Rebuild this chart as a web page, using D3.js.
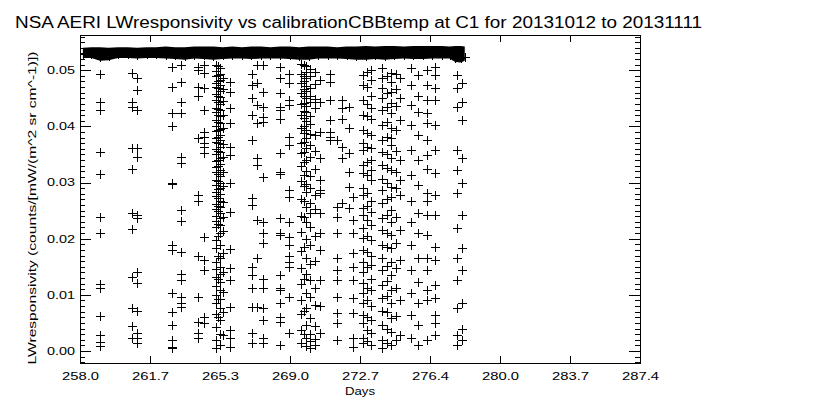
<!DOCTYPE html>
<html>
<head>
<meta charset="utf-8">
<script src="https://cdn.jsdelivr.net/npm/d3@7"></script>
<style>
body { margin: 0; background: #fff; }
svg text { font-family: "Liberation Sans", Arial, sans-serif; fill: #000; }
</style>
</head>
<body>
<svg width="840" height="400"></svg>
<script>
const width = 840;
const height = 400;
const plotLeft = 80, plotRight = 640, plotTop = 35, plotBottom = 363;

const titleText = "NSA AERI LWresponsivity vs calibrationCBBtemp at C1 for 20131012 to 20131111";
const xLabelText = "Days";
const yLabelText = "LWresponsivity (counts/[mW/(m^2 sr cm^-1)])";

const xTicks = [258.0, 261.675, 265.35, 269.025, 272.7, 276.375, 280.05, 283.725, 287.4];
const xTickLabels = ["258.0", "261.7", "265.3", "269.0", "272.7", "276.4", "280.0", "283.7", "287.4"];
const yTicks = [0, 0.01, 0.02, 0.03, 0.04, 0.05];
const yTickLabels = ["0.00", "0.01", "0.02", "0.03", "0.04", "0.05"];

// dense calibration cluster near the top (envelope of the point cloud)
const bandDays = [258.15, 258.6, 259.05, 259.5, 260.0, 260.5, 261.0, 261.5, 262.0, 262.5, 263.0, 263.5, 264.0, 264.5,
  265.0, 265.5, 266.0, 266.5, 267.0, 267.5, 268.0, 268.5, 269.0, 269.5, 270.0, 270.5, 271.0, 271.5, 272.0, 272.5,
  273.0, 273.5, 274.0, 274.5, 275.0, 275.5, 276.0, 276.5, 277.0, 277.4, 277.7, 278.0, 278.2];
const bandHi = [0.0533, 0.0534, 0.0534, 0.0533, 0.0534, 0.0534, 0.0533, 0.0534, 0.0534, 0.0535, 0.0534, 0.0534, 0.0535, 0.0535,
  0.0535, 0.0534, 0.0535, 0.0534, 0.0535, 0.0535, 0.0534, 0.0535, 0.0535, 0.0534, 0.0535, 0.0535, 0.0535, 0.0534, 0.0535, 0.0535,
  0.0536, 0.0535, 0.0536, 0.0536, 0.0535, 0.0536, 0.0536, 0.0536, 0.0536, 0.0535, 0.0536, 0.0536, 0.0535];
const bandLo = [0.0529, 0.0529, 0.0524, 0.0525, 0.0529, 0.0529, 0.0528, 0.0529, 0.0529, 0.0528, 0.0527, 0.0526, 0.0528, 0.0527,
  0.0526, 0.0527, 0.0528, 0.0528, 0.0527, 0.0528, 0.0528, 0.0528, 0.0527, 0.0526, 0.0526, 0.0528, 0.0528, 0.0528, 0.0527, 0.0526,
  0.0526, 0.0527, 0.0526, 0.0527, 0.0528, 0.0527, 0.0527, 0.0528, 0.0528, 0.0528, 0.0522, 0.0521, 0.0524];

// scattered points, grouped by the day they fall on
const colDays = [259.05, 260.73, 260.99, 262.85, 263.3, 264.17, 264.5, 265.15, 265.35, 265.5, 265.85,
  267.05, 267.3, 267.6, 268.5, 268.95, 269.6, 269.85, 270.1, 270.35, 270.6, 271.1, 271.5, 271.75, 272.1, 272.35,
  272.85, 273.3, 273.85, 274.35, 274.8, 275.4, 275.75, 276.2, 276.65, 277.8, 278.05,
  265.25, 269.75, 273.05, 274.1, 274.6];
const colResp = [
  [0.0494, 0.0443, 0.0429, 0.0354, 0.0316, 0.0238, 0.0210, 0.0120, 0.0112, 0.0062, 0.0028, 0.0016, 0.0008],
  [0.0496, 0.0443, 0.0434, 0.0361, 0.0325, 0.0245, 0.0218, 0.0131, 0.0076, 0.0044, 0.0024],
  [0.0486, 0.0464, 0.0430, 0.0361, 0.0345, 0.0242, 0.0236, 0.0140, 0.0121, 0.0071, 0.0032, 0.0023, 0.0014],
  [0.0505, 0.0470, 0.0423, 0.0400, 0.0299, 0.0297, 0.0188, 0.0179, 0.0103, 0.0069, 0.0046, 0.0019, 0.0007, 0.0005],
  [0.0509, 0.0479, 0.0443, 0.0423, 0.0345, 0.0334, 0.0251, 0.0231, 0.0176, 0.0138, 0.0126, 0.0096, 0.0085, 0.0078],
  [0.0505, 0.0500, 0.0470, 0.0455, 0.0379, 0.0277, 0.0268, 0.0170, 0.0096, 0.0051, 0.0032, 0.0024],
  [0.0509, 0.0496, 0.0468, 0.0429, 0.0390, 0.0381, 0.0370, 0.0363, 0.0352, 0.0203, 0.0162, 0.0144, 0.0060, 0.0049],
  [0.0510, 0.0499, 0.0489, 0.0478, 0.0470, 0.0457, 0.0447, 0.0433, 0.0425, 0.0412, 0.0401, 0.0391, 0.0380, 0.0372,
   0.0359, 0.0350, 0.0338, 0.0327, 0.0318, 0.0305, 0.0296, 0.0284, 0.0276, 0.0262, 0.0252, 0.0241, 0.0231, 0.0220,
   0.0197, 0.0183, 0.0158, 0.0146, 0.0131, 0.0115, 0.0100, 0.0085, 0.0066, 0.0043, 0.0020, 0.0006],
  [0.0504, 0.0494, 0.0483, 0.0474, 0.0463, 0.0452, 0.0440, 0.0429, 0.0418, 0.0406, 0.0396, 0.0385, 0.0376, 0.0364,
   0.0354, 0.0344, 0.0333, 0.0322, 0.0311, 0.0300, 0.0290, 0.0279, 0.0268, 0.0257, 0.0246, 0.0236, 0.0225, 0.0210,
   0.0188, 0.0165, 0.0150, 0.0137, 0.0122, 0.0108, 0.0092, 0.0076, 0.0055, 0.0031, 0.0011],
  [0.0487, 0.0466, 0.0445, 0.0420, 0.0397, 0.0369, 0.0346, 0.0318, 0.0293, 0.0265, 0.0239, 0.0214, 0.0174, 0.0140,
   0.0105, 0.0069, 0.0029],
  [0.0479, 0.0461, 0.0432, 0.0406, 0.0363, 0.0349, 0.0300, 0.0247, 0.0182, 0.0147, 0.0126, 0.0078, 0.0037, 0.0024, 0.0007],
  [0.0494, 0.0473, 0.0450, 0.0420, 0.0375, 0.0272, 0.0260, 0.0149, 0.0135, 0.0113, 0.0078, 0.0032, 0.0014],
  [0.0509, 0.0477, 0.0438, 0.0406, 0.0343, 0.0331, 0.0233, 0.0165, 0.0078],
  [0.0509, 0.0461, 0.0434, 0.0416, 0.0407, 0.0309, 0.0229, 0.0211, 0.0192, 0.0129, 0.0112, 0.0076, 0.0055, 0.0024, 0.0014],
  [0.0505, 0.0486, 0.0459, 0.0434, 0.0429, 0.0414, 0.0352, 0.0318, 0.0316, 0.0236, 0.0211, 0.0206, 0.0135, 0.0112,
   0.0108, 0.0085, 0.0060, 0.0051, 0.0010],
  [0.0494, 0.0477, 0.0447, 0.0438, 0.0381, 0.0366, 0.0286, 0.0274, 0.0229, 0.0203, 0.0188, 0.0170, 0.0158, 0.0149, 0.0096, 0.0032],
  [0.0511, 0.0493, 0.0478, 0.0459, 0.0440, 0.0421, 0.0398, 0.0371, 0.0352, 0.0329, 0.0302, 0.0271, 0.0241, 0.0212,
   0.0178, 0.0148, 0.0119, 0.0090, 0.0066, 0.0038, 0.0014],
  [0.0507, 0.0497, 0.0486, 0.0472, 0.0463, 0.0450, 0.0436, 0.0426, 0.0410, 0.0394, 0.0380, 0.0362, 0.0341, 0.0320,
   0.0297, 0.0283, 0.0257, 0.0230, 0.0199, 0.0166, 0.0137, 0.0104, 0.0077, 0.0047, 0.0024, 0.0008],
  [0.0502, 0.0489, 0.0468, 0.0455, 0.0444, 0.0418, 0.0404, 0.0387, 0.0366, 0.0346, 0.0311, 0.0290, 0.0263, 0.0246,
   0.0220, 0.0188, 0.0155, 0.0126, 0.0096, 0.0058, 0.0030, 0.0017, 0.0005],
  [0.0497, 0.0475, 0.0448, 0.0432, 0.0385, 0.0357, 0.0325, 0.0277, 0.0252, 0.0205, 0.0160, 0.0112, 0.0082, 0.0044, 0.0022, 0.0010],
  [0.0482, 0.0443, 0.0390, 0.0343, 0.0304, 0.0286, 0.0281, 0.0245, 0.0210, 0.0179, 0.0126, 0.0081, 0.0032],
  [0.0494, 0.0479, 0.0447, 0.0411, 0.0390, 0.0381, 0.0375],
  [0.0375, 0.0256, 0.0238, 0.0210, 0.0165, 0.0144, 0.0126, 0.0097, 0.0067, 0.0050, 0.0019],
  [0.0447, 0.0432, 0.0414, 0.0363, 0.0343, 0.0263],
  [0.0434, 0.0397, 0.0352, 0.0318, 0.0292, 0.0254],
  [0.0274, 0.0233, 0.0210, 0.0174, 0.0149, 0.0126, 0.0094, 0.0067, 0.0024, 0.0007],
  [0.0491, 0.0473, 0.0447, 0.0420, 0.0393, 0.0370, 0.0358, 0.0331, 0.0317, 0.0290, 0.0277, 0.0254, 0.0242, 0.0219,
   0.0201, 0.0179, 0.0158, 0.0140, 0.0121, 0.0103, 0.0085, 0.0064, 0.0049, 0.0024, 0.0014],
  [0.0500, 0.0482, 0.0455, 0.0432, 0.0414, 0.0384, 0.0361, 0.0340, 0.0322, 0.0304, 0.0268, 0.0247, 0.0224, 0.0197,
   0.0170, 0.0153, 0.0129, 0.0108, 0.0081, 0.0055, 0.0032, 0.0010],
  [0.0504, 0.0486, 0.0468, 0.0450, 0.0429, 0.0402, 0.0375, 0.0354, 0.0331, 0.0307, 0.0286, 0.0263, 0.0236, 0.0215,
   0.0188, 0.0165, 0.0144, 0.0117, 0.0094, 0.0072, 0.0046, 0.0019, 0.0005],
  [0.0496, 0.0479, 0.0461, 0.0441, 0.0423, 0.0397, 0.0379, 0.0366, 0.0343, 0.0322, 0.0292, 0.0274, 0.0251, 0.0229,
   0.0206, 0.0183, 0.0158, 0.0135, 0.0108, 0.0085, 0.0058, 0.0033, 0.0010],
  [0.0486, 0.0450, 0.0411, 0.0340, 0.0304, 0.0277, 0.0215, 0.0162, 0.0090, 0.0028],
  [0.0504, 0.0473, 0.0438, 0.0402, 0.0358, 0.0313, 0.0268, 0.0229, 0.0188, 0.0144, 0.0103, 0.0064, 0.0024],
  [0.0491, 0.0455, 0.0425, 0.0384, 0.0340, 0.0295, 0.0245, 0.0211, 0.0165, 0.0122, 0.0085, 0.0046, 0.0010],
  [0.0500, 0.0473, 0.0447, 0.0423, 0.0406, 0.0375, 0.0349, 0.0325, 0.0281, 0.0268, 0.0242, 0.0206, 0.0165, 0.0144,
   0.0108, 0.0090, 0.0019],
  [0.0505, 0.0491, 0.0468, 0.0447, 0.0402, 0.0358, 0.0317, 0.0277, 0.0242, 0.0185, 0.0162, 0.0117, 0.0094, 0.0064, 0.0049, 0.0028],
  [0.0491, 0.0468, 0.0434, 0.0358, 0.0322, 0.0281, 0.0219, 0.0165, 0.0126, 0.0076, 0.0028, 0.0010],
  [0.0477, 0.0443, 0.0411, 0.0343, 0.0300, 0.0242, 0.0183, 0.0144, 0.0085, 0.0040, 0.0019],
  [0.0507, 0.0492, 0.0480, 0.0468, 0.0455, 0.0443, 0.0431, 0.0420, 0.0408, 0.0394, 0.0382, 0.0370, 0.0356, 0.0341,
   0.0330, 0.0316, 0.0302, 0.0288, 0.0272, 0.0259, 0.0249, 0.0227, 0.0205, 0.0170, 0.0128, 0.0093, 0.0060],
  [0.0509, 0.0490, 0.0481, 0.0466, 0.0454, 0.0442, 0.0428, 0.0415, 0.0400, 0.0388, 0.0372, 0.0355, 0.0336, 0.0314,
   0.0293, 0.0268, 0.0238, 0.0185, 0.0129, 0.0071, 0.0030],
  [0.0497, 0.0470, 0.0440, 0.0418, 0.0388, 0.0364, 0.0336, 0.0313, 0.0281, 0.0259, 0.0233, 0.0205, 0.0176, 0.0150,
   0.0113, 0.0090, 0.0060, 0.0038, 0.0017],
  [0.0489, 0.0459, 0.0435, 0.0408, 0.0382, 0.0350, 0.0326, 0.0299, 0.0270, 0.0243, 0.0210, 0.0186, 0.0152, 0.0124,
   0.0098, 0.0070, 0.0040, 0.0014],
  [0.0493, 0.0466, 0.0437, 0.0393, 0.0356, 0.0318, 0.0290, 0.0239, 0.0193, 0.0147, 0.0112, 0.0062, 0.0020]
];

const svg = d3.select("svg")
  .attr("width", width)
  .attr("height", height);

const xScale = d3.scaleLinear()
  .domain([258.0, 287.4])
  .range([plotLeft, plotRight]);

const yScale = d3.scaleLinear()
  .domain([-0.00214, 0.05628])
  .range([plotBottom, plotTop]);

svg.append("clipPath").attr("id", "plotclip")
  .append("rect")
  .attr("x", plotLeft).attr("y", plotTop)
  .attr("width", plotRight - plotLeft).attr("height", plotBottom - plotTop);

const plot = svg.append("g").attr("clip-path", "url(#plotclip)");

// marker half size in px
const arm = 4;

// the solid band of overlapping calibration points
const band = d3.area()
  .x(i => xScale(bandDays[i]))
  .y0(i => yScale(bandLo[i]) + arm)
  .y1(i => yScale(bandHi[i]) - arm);

plot.append("path")
  .attr("d", band(d3.range(bandDays.length)))
  .attr("fill", "#000");

const points = [];
colDays.forEach((day, i) => colResp[i].forEach(v => points.push([day, v])));
bandDays.forEach((day, i) => points.push([day, bandLo[i]]));

const cross = d => {
  const cx = Math.round(xScale(d[0]));
  const cy = Math.round(yScale(d[1]));
  return `M${cx - arm},${cy + 0.5}h${2 * arm + 1}M${cx + 0.5},${cy - arm}v${2 * arm + 1}`;
};

plot.append("path")
  .attr("d", points.map(cross).join(""))
  .attr("fill", "none")
  .attr("stroke", "#000")
  .attr("stroke-width", 1)
  .attr("shape-rendering", "crispEdges");

// axes
const yMinor = d3.range(-2, 57).map(i => i / 1000);

const styleAxis = g => {
  g.selectAll("path, line").attr("stroke", "#000").attr("shape-rendering", "crispEdges");
  g.selectAll("text").attr("font-family", "Liberation Sans, Arial, sans-serif").attr("font-size", 10.5).attr("fill", "#000");
};

svg.append("g")
  .attr("transform", `translate(0,${plotBottom})`)
  .call(d3.axisBottom(xScale).tickValues(xTicks).tickFormat((d, i) => xTickLabels[i])
    .tickSize(-7).tickSizeOuter(0).tickPadding(10))
  .call(styleAxis)
  .selectAll("text")
    .attr("textLength", 37)
    .attr("lengthAdjust", "spacingAndGlyphs");

svg.append("g")
  .attr("transform", `translate(0,${plotTop})`)
  .call(d3.axisTop(xScale).tickValues(xTicks).tickFormat("").tickSize(-7).tickSizeOuter(0))
  .call(styleAxis);

svg.append("g")
  .attr("transform", `translate(${plotLeft},0)`)
  .call(d3.axisLeft(yScale).tickValues(yMinor).tickFormat("").tickSize(-5).tickSizeOuter(0))
  .call(styleAxis);

svg.append("g")
  .attr("transform", `translate(${plotLeft},0)`)
  .call(d3.axisLeft(yScale).tickValues(yTicks).tickFormat((d, i) => yTickLabels[i])
    .tickSize(-11).tickSizeOuter(0).tickPadding(5))
  .call(styleAxis)
  .selectAll("text")
    .attr("textLength", 28)
    .attr("lengthAdjust", "spacingAndGlyphs");

svg.append("g")
  .attr("transform", `translate(${plotRight},0)`)
  .call(d3.axisRight(yScale).tickValues(yMinor).tickFormat("").tickSize(-5).tickSizeOuter(0))
  .call(styleAxis);

svg.append("g")
  .attr("transform", `translate(${plotRight},0)`)
  .call(d3.axisRight(yScale).tickValues(yTicks).tickFormat("").tickSize(-11).tickSizeOuter(0))
  .call(styleAxis);

// titles
svg.append("text")
  .attr("x", 15)
  .attr("y", 28)
  .attr("font-size", 16)
  .attr("textLength", 687)
  .attr("lengthAdjust", "spacingAndGlyphs")
  .text(titleText);

svg.append("text")
  .attr("x", (plotLeft + plotRight) / 2)
  .attr("y", 395)
  .attr("text-anchor", "middle")
  .attr("font-size", 11)
  .attr("textLength", 30)
  .attr("lengthAdjust", "spacingAndGlyphs")
  .text(xLabelText);

svg.append("text")
  .attr("transform", "translate(36,208) rotate(-90)")
  .attr("text-anchor", "middle")
  .attr("font-size", 10.5)
  .attr("textLength", 313)
  .attr("lengthAdjust", "spacingAndGlyphs")
  .text(yLabelText);
</script>
</body>
</html>
